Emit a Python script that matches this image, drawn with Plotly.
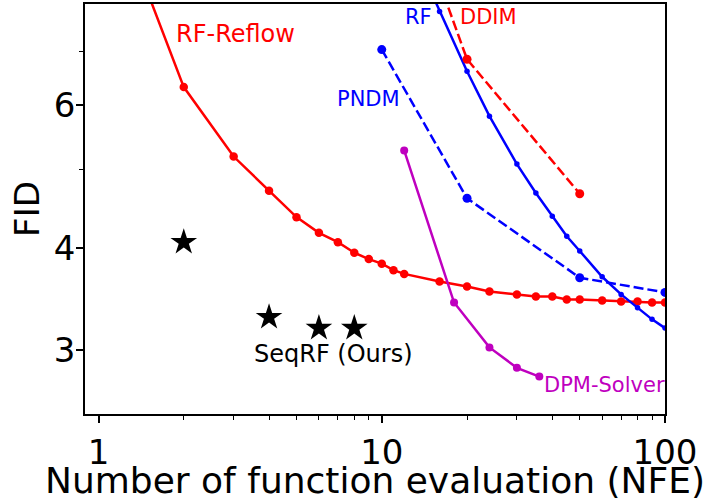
import numpy as np
import plotly.graph_objects as go

# NFE / FID results per sampler
rf_reflow_nfe = [1, 2, 3, 4, 5, 6, 7, 8, 9, 10, 11, 12, 16, 20, 24, 30, 35, 40, 45, 50, 60, 70, 80, 90, 100]
rf_reflow_fid = [11.9, 6.32, 5.19, 4.71, 4.37, 4.18, 4.07, 3.95, 3.88, 3.83, 3.76, 3.72, 3.64, 3.59,
                 3.54, 3.51, 3.49, 3.49, 3.46, 3.46, 3.45, 3.44, 3.44, 3.43, 3.43]

rf_nfe = [12, 16, 20, 24, 30, 35, 40, 45, 50, 60, 70, 80, 90, 100]
rf_fid = [9.8, 7.83, 6.61, 5.82, 5.08, 4.68, 4.38, 4.14, 3.97, 3.69, 3.51, 3.38, 3.27, 3.19]

ddim_nfe = [10, 20, 50]
ddim_fid = [13.36, 6.84, 4.67]

pndm_nfe = [10, 20, 50, 100]
pndm_fid = [7.03, 4.61, 3.68, 3.53]

dpm_nfe = [12, 18, 24, 30, 36]
dpm_fid = [5.28, 3.43, 3.02, 2.85, 2.78]

seqrf_nfe = [2, 4, 6, 8]
seqrf_fid = [4.07, 3.29, 3.19, 3.19]

x_major = [1, 10, 100]
x_minor = [v * d for d in (1, 10) for v in range(2, 10)]
y_major = [3, 4, 6]
y_minor = [5, 7]

RED = "#ff0000"
BLUE = "#0000ff"
MAG = "#bf00bf"
FONT = "DejaVu Sans"
LW = 2.5
DASH = "10px,4px"

fig = go.Figure()

fig.add_trace(go.Scatter(x=rf_reflow_nfe, y=rf_reflow_fid, mode="lines+markers",
                         line=dict(color=RED, width=LW), marker=dict(size=8.5, color=RED)))
fig.add_trace(go.Scatter(x=rf_nfe, y=rf_fid, mode="lines+markers",
                         line=dict(color=BLUE, width=LW), marker=dict(size=5.5, color=BLUE)))
fig.add_trace(go.Scatter(x=ddim_nfe, y=ddim_fid, mode="lines+markers",
                         line=dict(color=RED, width=LW, dash=DASH), marker=dict(size=9, color=RED)))
fig.add_trace(go.Scatter(x=pndm_nfe, y=pndm_fid, mode="lines+markers",
                         line=dict(color=BLUE, width=LW, dash=DASH), marker=dict(size=9, color=BLUE)))
fig.add_trace(go.Scatter(x=dpm_nfe, y=dpm_fid, mode="lines+markers",
                         line=dict(color=MAG, width=LW), marker=dict(size=8, color=MAG)))
fig.add_trace(go.Scatter(x=seqrf_nfe, y=seqrf_fid, mode="markers",
                         marker=dict(symbol="star", size=20, color="black", line=dict(width=0))))

# Plot area in pixels: x 85..665, y 4..414
def px(x, y):
    return (x - 85) / 580.0, (414 - y) / 410.0

labels = [
    ("RF-Reflow", 235, 34, RED, 24),
    ("RF", 418, 17, BLUE, 21),
    ("DDIM", 489, 17, RED, 21),
    ("PNDM", 368, 99, BLUE, 21),
    ("DPM-Solver", 604, 385, MAG, 21),
    ("SeqRF (Ours)", 333, 354, "black", 24),
]
for text, lx, ly, col, fs in labels:
    ax, ay = px(lx, ly)
    fig.add_annotation(x=ax, y=ay, xref="paper", yref="paper", text=text, showarrow=False,
                       xanchor="center", yanchor="middle",
                       font=dict(family=FONT, size=fs, color=col))

axis_common = dict(showline=True, mirror=True, linecolor="black", linewidth=1.5,
                   ticks="outside", ticklen=7, tickwidth=1.5, tickcolor="black",
                   showgrid=False, zeroline=False, automargin=False,
                   tickfont=dict(family=FONT, size=34, color="black"))

fig.update_xaxes(type="log", range=[np.log10(0.896), 2], tickmode="array",
                 tickvals=x_major, ticktext=[str(v) for v in x_major],
                 minor=dict(tickmode="array", tickvals=x_minor, ticks="outside",
                            ticklen=4, tickwidth=1, tickcolor="black", showgrid=False),
                 title=dict(text="Number of function evaluation (NFE)",
                            font=dict(family=FONT, size=36, color="black"), standoff=2),
                 **axis_common)
fig.update_yaxes(type="log", range=[np.log10(2.5), np.log10(8)], tickmode="array",
                 tickvals=y_major, ticktext=[str(v) for v in y_major],
                 ticklabelstandoff=-6,
                 minor=dict(tickmode="array", tickvals=y_minor, ticks="outside",
                            ticklen=4, tickwidth=1, tickcolor="black", showgrid=False),
                 title=dict(text="FID", font=dict(family=FONT, size=34, color="black"), standoff=4),
                 **axis_common)

fig.update_layout(width=704, height=501, showlegend=False,
                  plot_bgcolor="white", paper_bgcolor="white",
                  margin=dict(l=85, r=39, t=4, b=87),
                  font=dict(family=FONT))

fig.write_html("out.html")
